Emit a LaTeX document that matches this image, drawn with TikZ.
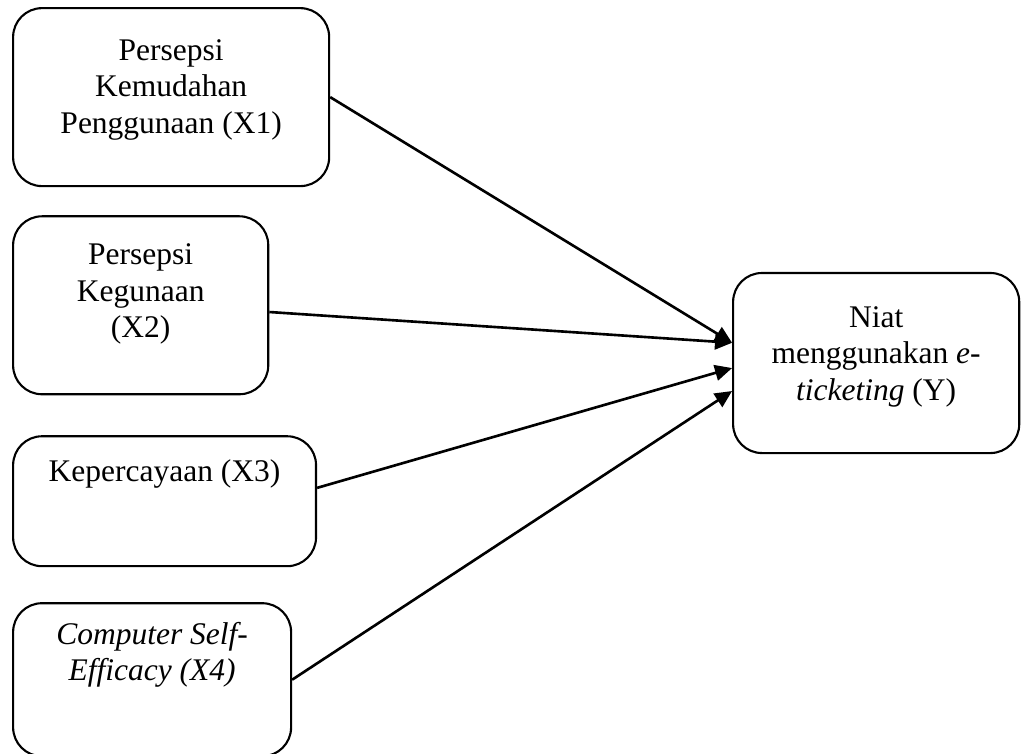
\documentclass[tikz,border=0pt]{standalone}
\usepackage{fontspec}
\setmainfont{Liberation Serif}
\usetikzlibrary{positioning, arrows.meta}

\tikzset{
  box/.style={draw, line width=0.8pt, rounded corners=11pt, align=center, font=\fontsize{12}{13.9}\selectfont, inner sep=2pt},
  link/.style={-{Triangle[length=6.5pt, width=6pt]}, line width=1pt}
}

\begin{document}
\begin{tikzpicture}
\useasboundingbox (0,0) rectangle (390.5pt,-286.9pt);
\node[box, minimum width=120.4pt, minimum height=67.8pt, anchor=north west](x1) at (4.6pt,-2.7pt){Persepsi\\Kemudahan\\Penggunaan (X1)\\[-5.7pt]~};
\node[box, minimum width=97.2pt, minimum height=67.8pt, below = 10.7pt of x1.south west, anchor=north west](x2){Persepsi\\Kegunaan\\(X2)\\[-2.7pt]~};
\node[box, minimum width=115.4pt, minimum height=49.5pt, below = 15.2pt of x2.south west, anchor=north west](x3){Kepercayaan (X3)\\[9.8pt]~};
\node[box, minimum width=105.9pt, minimum height=58.3pt, below = 13.3pt of x3.south west, anchor=north west](x4){\textit{Computer Self-}\\\textit{Efficacy (X4)}\\[7.6pt]~};
\node[box, minimum width=109pt, minimum height=68.6pt, anchor=west](y) at (278.9pt,-138.3pt){Niat\\menggunakan \textit{e-}\\\textit{ticketing} (Y)\\[-6.5pt]~};
\draw[link] (x1.east) -- (y.172);
\draw[link] (x2.357) -- (y.172);
\draw[link] (x3.5) -- (y.182);
\draw[link] (x4.east) -- (y.191);
\end{tikzpicture}
\end{document}
